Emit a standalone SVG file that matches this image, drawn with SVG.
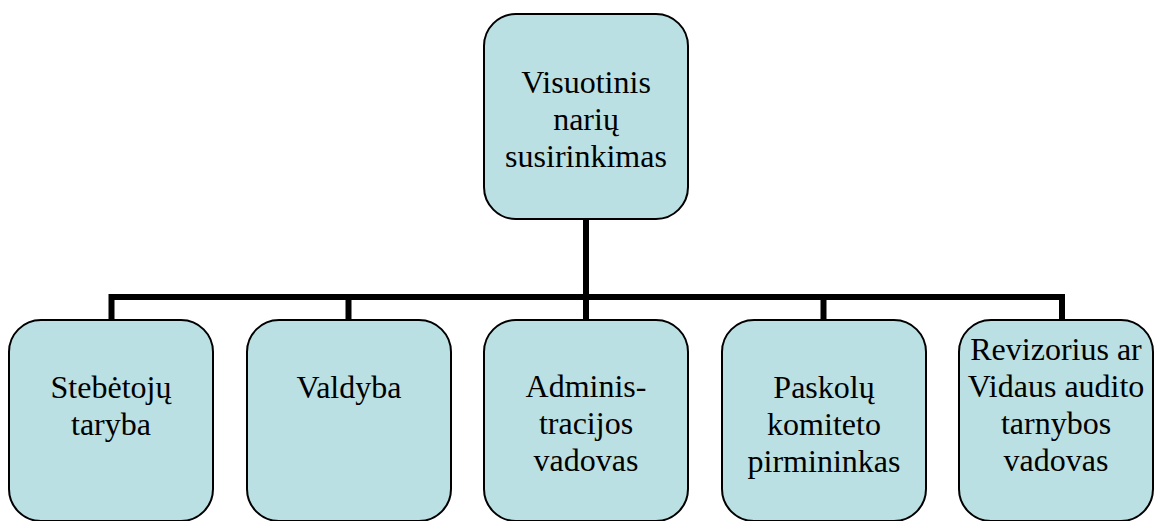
<svg xmlns="http://www.w3.org/2000/svg" width="1154" height="521" viewBox="0 0 1154 521">
<style>
.box{fill:#BBE0E3;stroke:#000;stroke-width:2}
.t{font-family:'Liberation Serif','Times New Roman','DejaVu Serif',serif;font-size:32px;fill:#000;text-anchor:middle}
.c{stroke:#000;stroke-width:6;fill:none}
</style>
<rect width="1154" height="521" fill="#fff"/>
<g id="connectors">
<line class="c" x1="586" y1="219" x2="586" y2="320"/>
<polyline class="c" points="111.5,320 111.5,297 1062,297 1062,320"/>
<line class="c" x1="348.5" y1="297" x2="348.5" y2="320"/>
<line class="c" x1="823.5" y1="297" x2="823.5" y2="320"/>
</g>
<g id="n0">
<rect class="box" x="484" y="14" width="204" height="205" rx="32"/>
<text class="t" x="586" y="93">Visuotinis</text>
<text class="t" x="586" y="130">narių</text>
<text class="t" x="586" y="167">susirinkimas</text>
</g>
<g id="n1">
<rect class="box" x="9" y="320" width="204" height="201" rx="32"/>
<text class="t" x="111" y="398">Stebėtojų</text>
<text class="t" x="111" y="435">taryba</text>
</g>
<g id="n2">
<rect class="box" x="247" y="320" width="204" height="201" rx="32"/>
<text class="t" x="349" y="398">Valdyba</text>
</g>
<g id="n3">
<rect class="box" x="484" y="320" width="204" height="201" rx="32"/>
<text class="t" x="586" y="397">Adminis-</text>
<text class="t" x="586" y="434">tracijos</text>
<text class="t" x="586" y="471">vadovas</text>
</g>
<g id="n4">
<rect class="box" x="722" y="320" width="204" height="201" rx="32"/>
<text class="t" x="824" y="398">Paskolų</text>
<text class="t" x="824" y="435">komiteto</text>
<text class="t" x="824" y="472">pirmininkas</text>
</g>
<g id="n5">
<rect class="box" x="959" y="320" width="194" height="201" rx="32"/>
<text class="t" x="1056" y="360">Revizorius ar</text>
<text class="t" x="1056" y="397">Vidaus audito</text>
<text class="t" x="1056" y="434">tarnybos</text>
<text class="t" x="1056" y="471">vadovas</text>
</g>
</svg>
